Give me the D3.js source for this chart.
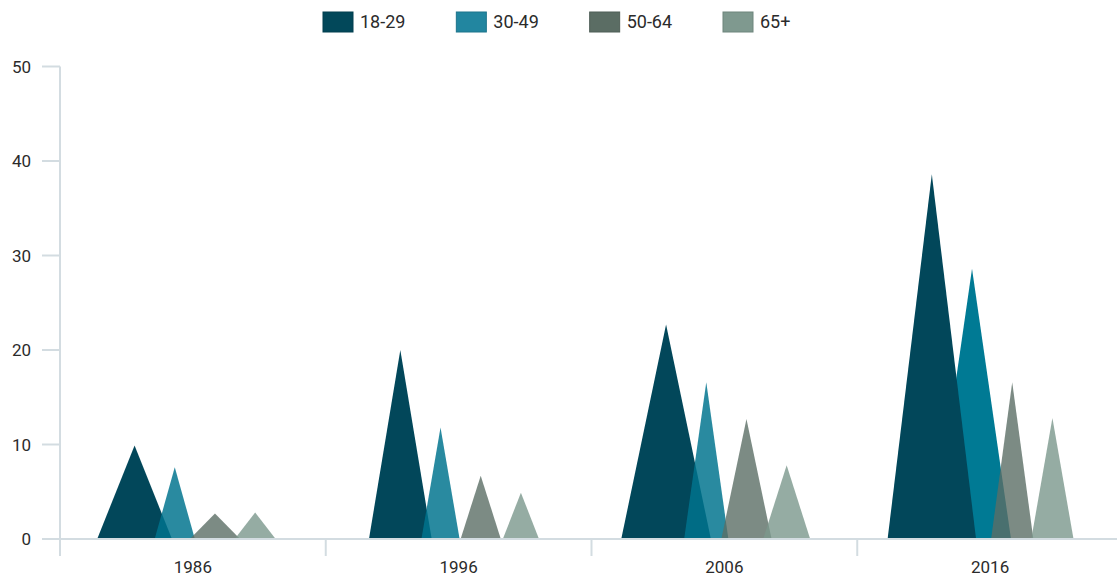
<!DOCTYPE html>
<html>
<head>
<meta charset="utf-8">
<script src="https://cdn.jsdelivr.net/npm/d3@7"></script>
<style>
  body { margin: 0; background: #fff; }
  svg text { font-family: Roboto, "DejaVu Sans", sans-serif; fill: #2b2b2b; }
</style>
</head>
<body>
<div id="chart"></div>
<script>
// categories and series
const years = ['1986', '1996', '2006', '2016'];
const ageGroups = ['18-29', '30-49', '50-64', '65+'];
const age18to29 = [9.9, 20, 22.7, 38.6];
const age30to49 = [7.6, 11.8, 16.6, 28.6];
const age50to64 = [2.7, 6.7, 12.7, 16.6];
const age65plus = [2.8, 4.9, 7.8, 12.8];
const yTicks = [0, 10, 20, 30, 40, 50];

const seriesValues = [age18to29, age30to49, age50to64, age65plus];

// look of each series
const fills = ['#02475a', '#00738e', '#5b6e65', '#7b978c'];
const opacities = [1, 0.84, 0.8, 0.8];
const legendFills = ['#02485a', '#2286a0', '#5b6d64', '#7f998f'];
// base width of each triangle, as a multiple of its sub band (rows = years)
const spread = [
    [1.86, 1.0, 1.25, 1.02],
    [1.56, 0.95, 1.0, 0.9],
    [2.23, 1.1, 1.25, 1.17],
    [2.2, 1.94, 1.05, 1.05]
];
// the 2016 30-49 peak shows solid and sits behind 18-29
const solidBehind = { year: '2016', group: '30-49', fill: '#007a94' };

const width = 1117, height = 577;
const axisColor = '#d3dce1';

const svg = d3.select('#chart').append('svg')
    .attr('width', width)
    .attr('height', height);

const x = d3.scaleBand().domain(years).range([60, 1123]);
const sub = d3.scaleBand().domain(ageGroups)
    .range([x.bandwidth() * 0.205, x.bandwidth() * 0.81]);
const y = d3.scaleLinear().domain([0, 50]).range([539, 66.5]);

// triangles
const tris = [];
years.forEach((yr, i) => {
    ageGroups.forEach((g, j) => {
        const special = yr === solidBehind.year && g === solidBehind.group;
        tris.push({
            year: yr,
            group: g,
            value: seriesValues[j][i],
            w: sub.bandwidth() * spread[i][j],
            fill: special ? solidBehind.fill : fills[j],
            opacity: special ? 1 : opacities[j],
            z: special ? -1 : j
        });
    });
});
tris.sort((a, b) => a.z - b.z);

const plot = svg.append('g');
plot.selectAll('path')
    .data(tris)
    .join('path')
    .attr('d', d => {
        const cx = x(d.year) + sub(d.group) + sub.bandwidth() / 2;
        return `M${cx - d.w / 2},${y(0)}L${cx},${y(d.value)}L${cx + d.w / 2},${y(0)}Z`;
    })
    .attr('fill', d => d.fill)
    .attr('fill-opacity', d => d.opacity);

// y axis
const yAxis = svg.append('g');
yAxis.append('line')
    .attr('x1', 60).attr('x2', 60)
    .attr('y1', y(50)).attr('y2', 556)
    .attr('stroke', axisColor).attr('stroke-width', 2);
yAxis.selectAll('line.tick')
    .data(yTicks)
    .join('line')
    .attr('class', 'tick')
    .attr('x1', 42).attr('x2', 60)
    .attr('y1', d => y(d)).attr('y2', d => y(d))
    .attr('stroke', axisColor).attr('stroke-width', 2);
yAxis.selectAll('text')
    .data(yTicks)
    .join('text')
    .attr('x', 31)
    .attr('y', d => y(d))
    .attr('dy', '0.36em')
    .attr('text-anchor', 'end')
    .attr('font-size', 17)
    .text(d => d);

// x axis
const xAxis = svg.append('g');
xAxis.append('line')
    .attr('x1', 42).attr('x2', width)
    .attr('y1', y(0)).attr('y2', y(0))
    .attr('stroke', axisColor).attr('stroke-width', 2);
xAxis.selectAll('line.tick')
    .data(years)
    .join('line')
    .attr('class', 'tick')
    .attr('x1', d => x(d)).attr('x2', d => x(d))
    .attr('y1', y(0)).attr('y2', 556)
    .attr('stroke', axisColor).attr('stroke-width', 2);
xAxis.selectAll('text')
    .data(years)
    .join('text')
    .attr('x', d => x(d) + x.bandwidth() / 2)
    .attr('y', 573)
    .attr('text-anchor', 'middle')
    .attr('font-size', 17)
    .text(d => d);

// legend
const legendX = d3.scalePoint().domain(ageGroups).range([323, 723]);
const legend = svg.append('g')
    .selectAll('g')
    .data(ageGroups)
    .join('g')
    .attr('transform', d => `translate(${legendX(d)},12)`);
legend.append('rect')
    .attr('width', 30).attr('height', 20)
    .attr('fill', (d, i) => legendFills[i])
    .attr('stroke', (d, i) => d3.color(legendFills[i]).darker(0.4))
    .attr('stroke-width', 1);
legend.append('text')
    .attr('x', 37).attr('y', 10)
    .attr('dy', '0.36em')
    .attr('font-size', 18)
    .text(d => d);
</script>
</body>
</html>
